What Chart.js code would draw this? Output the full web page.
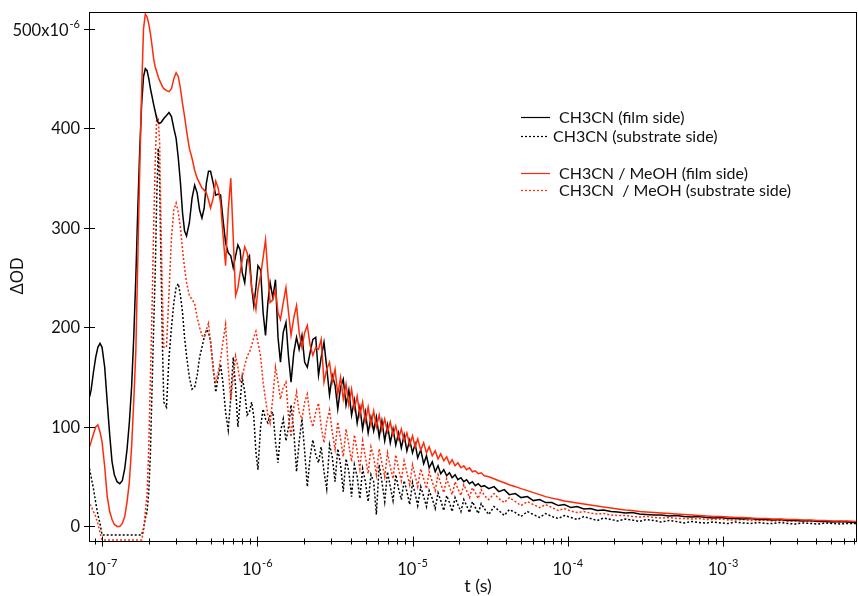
<!DOCTYPE html>
<html>
<head>
<meta charset="utf-8">
<script src="https://cdn.jsdelivr.net/npm/chart.js@4.4.0/dist/chart.umd.min.js"></script>
<style>
  html, body { margin: 0; padding: 0; background: #fff; }
  canvas { display: block; }
</style>
</head>
<body>
<canvas id="chart" width="858" height="596"></canvas>
<script>
// delay time in ns
const timeNs = [
  83, 85, 88, 91, 94, 97, 100, 104, 108, 112,
  116, 120, 125, 130, 135, 140, 145, 150, 155, 160,
  165, 170, 175, 180, 185, 190, 195, 200, 205, 210,
  215, 220, 225, 230, 235, 240, 245, 250, 260, 270,
  280, 290, 300, 310, 320, 330, 340, 350, 365, 380,
  395, 410, 425, 440, 455, 470, 485, 500, 520, 540,
  560, 580, 600, 625, 650, 675, 700, 725, 750, 775,
  800, 830, 860, 890, 920, 950, 980, 1010, 1050, 1090,
  1130, 1170, 1210, 1260, 1310, 1360, 1410, 1470, 1530, 1590,
  1650, 1720, 1790, 1860, 1940, 2020, 2100, 2190, 2280, 2380,
  2480, 2580, 2690, 2800, 2920, 3040, 3170, 3300, 3440, 3580,
  3730, 3890, 4050, 4220, 4400, 4580, 4770, 4970, 5180, 5400,
  5620, 5850, 6100, 6350, 6620, 6900, 7190, 7490, 7800, 8130,
  8470, 8830, 9200, 9590, 10000, 10400, 10800, 11300, 11800, 12300,
  12800, 13400, 14000, 14600, 15200, 15900, 16600, 17300, 18000, 18800,
  19600, 20500, 21400, 22300, 23300, 24300, 25400, 26500, 27700, 29000,
  31000, 33500, 36000, 39000, 42000, 46000, 50000, 55000, 60000, 66000,
  72000, 79000, 87000, 95000, 105000, 115000, 127000, 140000, 155000, 170000,
  190000, 210000, 235000, 260000, 290000, 320000, 360000, 400000, 450000, 500000,
  560000, 630000, 700000, 780000, 870000, 970000, 1080000, 1200000, 1350000, 1500000,
  1680000, 1880000, 2100000, 2350000, 2620000, 2930000, 3270000, 3650000, 4080000, 4550000,
  5080000, 5670000, 6330000, 7000000, 7300000
];

// ΔOD in units of 1e-6
const filmCH3CN = [
  130, 137, 155, 170, 180, 184, 180, 160, 125, 92,
  65, 52, 45, 43, 46, 58, 78, 105, 140, 190,
  250, 320, 380, 425, 452, 460, 458, 450, 440, 432,
  424, 417, 410, 406, 405, 406, 408, 410, 413, 416,
  412, 400, 390, 370, 345, 315, 297, 292, 305, 330,
  343, 335, 318, 310, 320, 345, 357, 357, 345, 333,
  334, 333, 310, 285, 275, 272, 260, 272, 283, 278,
  255, 245, 268, 272, 240, 222, 240, 262, 258, 215,
  192, 225, 245, 230, 248, 190, 165, 195, 205, 170,
  145, 175, 190, 178, 192, 165, 160, 175, 188, 190,
  152, 170, 185, 160, 132, 152, 142, 118, 140, 148,
  122, 137, 112, 127, 104, 120, 98, 115, 94, 110,
  96, 110, 90, 106, 86, 102, 84, 98, 82, 94,
  79, 92, 76, 87, 74, 83, 69, 77, 63, 71,
  59, 65, 55, 61, 53, 57, 51, 54, 49, 52,
  47, 49, 45, 47, 43, 45, 41, 43, 40, 41,
  38, 40, 35, 37, 32, 33, 29, 30, 26, 27,
  24, 24, 21, 22, 19, 20, 17.5, 18, 16, 16.5,
  15, 14.5, 13.5, 14, 12.5, 12, 11.5, 11.5, 10.5, 11,
  10, 9.5, 10, 9, 8.5, 9, 8, 8, 7.5, 8,
  7, 7, 6.5, 7, 6, 6, 5.5, 6, 5, 5,
  4.5, 5, 4.5, 4, 4
];

const substrateCH3CN = [
  58, 50, 38, 24, 12, 3, -8.5, -8.5, -8.5, -8.5,
  -8.5, -8.5, -8.5, -8.5, -8.5, -8.5, -8.5, -8.5, -8.5, -8.5,
  -8.5, -8.5, -8.5, -8.5, -2, 8, 15, 35, 75, 140,
  200, 255, 330, 380, 345, 260, 180, 125, 120, 170,
  200, 225, 240, 244, 232, 215, 190, 172, 150, 138,
  140, 152, 170, 180, 190, 198, 195, 186, 160, 135,
  150, 163, 145, 115, 97, 130, 170, 140, 100, 125,
  150, 135, 112, 115, 125, 110, 75, 57, 100, 118,
  108, 104, 112, 115, 85, 64, 95, 108, 86, 100,
  122, 95, 55, 85, 108, 75, 40, 70, 87, 72,
  64, 80, 55, 38, 82, 70, 45, 78, 62, 35,
  68, 55, 30, 62, 50, 28, 58, 45, 25, 52,
  45, 12, 62, 45, 25, 55, 40, 26, 52, 38,
  27, 46, 35, 22, 44, 33, 21, 40, 30, 20,
  36, 28, 18, 34, 26, 16, 31, 24, 15, 29,
  22, 15, 27, 21, 14, 25, 19, 13, 23, 18,
  12, 20, 16, 11, 17, 14, 10, 15, 12, 9,
  13, 10, 8, 11, 9, 7, 10, 8, 6, 8.5,
  7, 5.5, 7.5, 6.5, 5, 7, 6, 4.5, 6, 5,
  3.5, 5, 4, 3.5, 4.5, 3.5, 3, 4.5, 3.5, 3,
  4, 3, 3, 4, 3, 2.5, 3.5, 3, 2.5, 3.5,
  3, 2.5, 3, 3, 3
];

const filmMix = [
  80, 85, 93, 100, 102, 95, 85, 60, 30, 15,
  7, 2, 0, 0, 3, 10, 25, 45, 80, 125,
  175, 270, 360, 440, 500, 515, 512, 505, 495, 483,
  470, 462, 457, 452, 448, 445, 442, 440, 438, 437,
  440, 450, 456, 452, 440, 425, 412, 398, 380, 370,
  358, 350, 345, 340, 338, 335, 328, 320, 330, 347,
  340, 325, 295, 262, 318, 350, 290, 232, 240, 255,
  268, 281, 275, 262, 240, 230, 218, 238, 252, 270,
  288, 255, 225, 228, 238, 215, 208, 225, 240, 215,
  192, 210, 222, 195, 180, 195, 202, 182, 172, 180,
  178, 188, 145, 158, 165, 145, 158, 133, 150, 128,
  143, 122, 138, 118, 131, 112, 125, 106, 120, 102,
  116, 100, 112, 97, 108, 95, 105, 92, 101, 88,
  98, 86, 94, 82, 91, 80, 88, 77, 84, 74,
  80, 71, 76, 68, 73, 66, 70, 63, 67, 61,
  64, 59, 61, 57, 59, 55, 56, 53, 54, 51,
  50, 48, 46, 44, 42, 40, 38, 36, 34, 32,
  30, 28.5, 27, 25.5, 24.5, 23.5, 22.5, 21.5, 20.5, 19.5,
  18.5, 17.5, 16.5, 16, 15, 14.5, 14, 13.5, 13, 12.5,
  12, 11.5, 11, 10.5, 10, 10, 9.5, 9, 9, 8.5,
  8, 8, 7.5, 7.5, 7, 7, 6.5, 6.5, 6, 6,
  5.5, 5.5, 5.5, 5, 5
];

const substrateMix = [
  22, 21, 15, 10, 3, -6, -13.5, -13.5, -13.5, -13.5,
  -13.5, -13.5, -13.5, -13.5, -13.5, -13.5, -13.5, -13.5, -13.5, -13.5,
  -13.5, -13.5, -13.5, -13.5, -5, 15, 32, 80, 150, 220,
  300, 365, 412, 410, 385, 300, 230, 180, 180, 235,
  290, 318, 325, 315, 300, 278, 260, 245, 232, 228,
  224, 210, 200, 192, 190, 198, 204, 185, 158, 144,
  155, 168, 185, 203, 160, 127, 150, 171, 160, 145,
  150, 162, 171, 175, 182, 190, 196, 185, 171, 145,
  128, 112, 104, 130, 160, 145, 128, 140, 145, 110,
  90, 120, 135, 115, 108, 125, 133, 110, 100, 115,
  124, 100, 84, 105, 117, 95, 78, 105, 88, 70,
  98, 82, 65, 92, 76, 58, 86, 70, 53, 80,
  70, 52, 78, 64, 50, 74, 60, 48, 72, 58,
  46, 66, 54, 42, 62, 51, 40, 58, 48, 38,
  55, 45, 36, 52, 43, 34, 48, 40, 32, 45,
  38, 31, 42, 36, 29, 39, 34, 28, 37, 31,
  27, 33, 28, 24, 29, 25, 21, 25, 22, 19,
  22, 19, 16, 18, 15.5, 14, 15, 13.5, 12.5, 13,
  11.5, 11, 11, 10, 9.5, 10, 9, 8.5, 9, 8,
  8, 7.5, 8, 7, 7, 7.5, 6.5, 6.5, 7, 6,
  6, 6.5, 5.5, 6, 5.5, 5.5, 6, 5, 5.5, 5,
  5, 4.5, 5, 5, 4.5
];

const seriesLabels = [
  "CH3CN (film side)",
  "CH3CN (substrate side)",
  "CH3CN / MeOH (film side)",
  "CH3CN  / MeOH (substrate side)"
];
const yTicks = [0, 100, 200, 300, 400, 500];
const xDecades = [-7, -6, -5, -4, -3];

const BLACK = "#000000";
const RED = "#ff2a0a";
const FONT = "Lato, 'DejaVu Sans', sans-serif";

const toPoints = vals => timeNs.map((t, i) => ({x: t * 1e-9, y: vals[i]}));

const datasets = [
  {label: seriesLabels[0], data: toPoints(filmCH3CN), borderColor: BLACK, borderDash: [], order: 1},
  {label: seriesLabels[1], data: toPoints(substrateCH3CN), borderColor: BLACK, borderDash: [2, 2], order: 3},
  {label: seriesLabels[2], data: toPoints(filmMix), borderColor: RED, borderDash: [], order: 0},
  {label: seriesLabels[3], data: toPoints(substrateMix), borderColor: RED, borderDash: [2, 2], order: 2}
].map(d => ({...d, borderWidth: 1.5, pointRadius: 0, tension: 0, fill: false}));

// legend rows: y position, line start/end, text start
const legendRows = [
  {y: 117, x0: 521, x1: 550, tx: 559},
  {y: 136, x0: 521, x1: 548, tx: 553},
  {y: 173, x0: 521, x1: 550, tx: 559},
  {y: 190, x0: 521, x1: 548, tx: 559}
];

function drawSup(ctx, main, sup, x, y, align) {
  ctx.font = "16.5px " + FONT;
  const wm = ctx.measureText(main).width;
  ctx.font = "11px " + FONT;
  const ws = ctx.measureText(sup).width;
  let start = x;
  if (align === "right") start = x - wm - ws - 1;
  if (align === "center") start = x - (wm + ws + 1) / 2;
  ctx.textAlign = "left";
  ctx.textBaseline = "alphabetic";
  ctx.font = "16.5px " + FONT;
  ctx.fillText(main, start, y);
  ctx.font = "11px " + FONT;
  ctx.fillText(sup, start + wm + 1, y - 8);
}

const axesPlugin = {
  id: "axesPlugin",
  afterDraw(chart) {
    const {ctx, chartArea: a, scales} = chart;
    const x = scales.x, y = scales.y;
    ctx.save();
    ctx.strokeStyle = "#000";
    ctx.fillStyle = "#111";
    ctx.lineWidth = 1;
    ctx.setLineDash([]);
    ctx.strokeRect(a.left + 0.5, a.top + 0.5, a.right - a.left - 1, a.bottom - a.top);

    // y ticks and labels
    yTicks.forEach(v => {
      const py = Math.round(y.getPixelForValue(v)) + 0.5;
      ctx.beginPath();
      ctx.moveTo(a.left - 5, py);
      ctx.lineTo(a.left + 6, py);
      ctx.stroke();
      if (v === 500) {
        drawSup(ctx, "500x10", "-6", a.left - 9, py + 6, "right");
      } else {
        ctx.font = "16.5px " + FONT;
        ctx.textAlign = "right";
        ctx.textBaseline = "middle";
        ctx.fillText(String(v), a.left - 9, py);
      }
    });

    // x ticks: majors and minors
    const yb = a.bottom + 0.5;
    for (let e = -8; e <= -3; e++) {
      for (let m = 1; m <= 9; m++) {
        const t = m * Math.pow(10, e);
        if (t < x.min || t > x.max) continue;
        const px = Math.round(x.getPixelForValue(t)) + 0.5;
        const len = m === 1 ? 5 : 3;
        ctx.beginPath();
        ctx.moveTo(px, yb - len);
        ctx.lineTo(px, yb + len);
        ctx.stroke();
      }
    }
    xDecades.forEach(e => {
      const px = x.getPixelForValue(Math.pow(10, e));
      drawSup(ctx, "10", String(e), px, a.bottom + 34, "center");
    });

    // axis titles
    ctx.font = "18px " + FONT;
    ctx.textAlign = "center";
    ctx.textBaseline = "alphabetic";
    ctx.fillText("t (s)", 478, 592);
    ctx.save();
    ctx.translate(23, 276);
    ctx.rotate(-Math.PI / 2);
    ctx.font = "16.5px " + FONT;
    ctx.fillText("\u0394OD", 0, 0);
    ctx.restore();

    // legend
    ctx.font = "16px " + FONT;
    ctx.textAlign = "left";
    ctx.textBaseline = "middle";
    legendRows.forEach((r, i) => {
      const ds = chart.data.datasets[i];
      ctx.strokeStyle = ds.borderColor;
      ctx.lineWidth = 1.2;
      ctx.setLineDash(ds.borderDash);
      ctx.beginPath();
      ctx.moveTo(r.x0, r.y + 0.5);
      ctx.lineTo(r.x1, r.y + 0.5);
      ctx.stroke();
      ctx.setLineDash([]);
      ctx.fillStyle = "#111";
      ctx.fillText(ds.label, r.tx, r.y + 1);
    });
    ctx.restore();
  }
};

new Chart(document.getElementById("chart"), {
  type: "line",
  data: {datasets},
  options: {
    responsive: false,
    animation: false,
    layout: {padding: {left: 0, top: 12, right: 1, bottom: 0}},
    plugins: {legend: {display: false}, tooltip: {enabled: false}},
    scales: {
      x: {
        type: "logarithmic",
        min: 8.24e-8,
        max: 7.3e-3,
        grid: {display: false},
        border: {display: false},
        ticks: {display: false},
        afterFit: s => { s.height = 55; }
      },
      y: {
        type: "linear",
        min: -14.6,
        max: 517,
        grid: {display: false},
        border: {display: false},
        ticks: {display: false},
        afterFit: s => { s.width = 89; }
      }
    }
  },
  plugins: [axesPlugin]
});
</script>
</body>
</html>
